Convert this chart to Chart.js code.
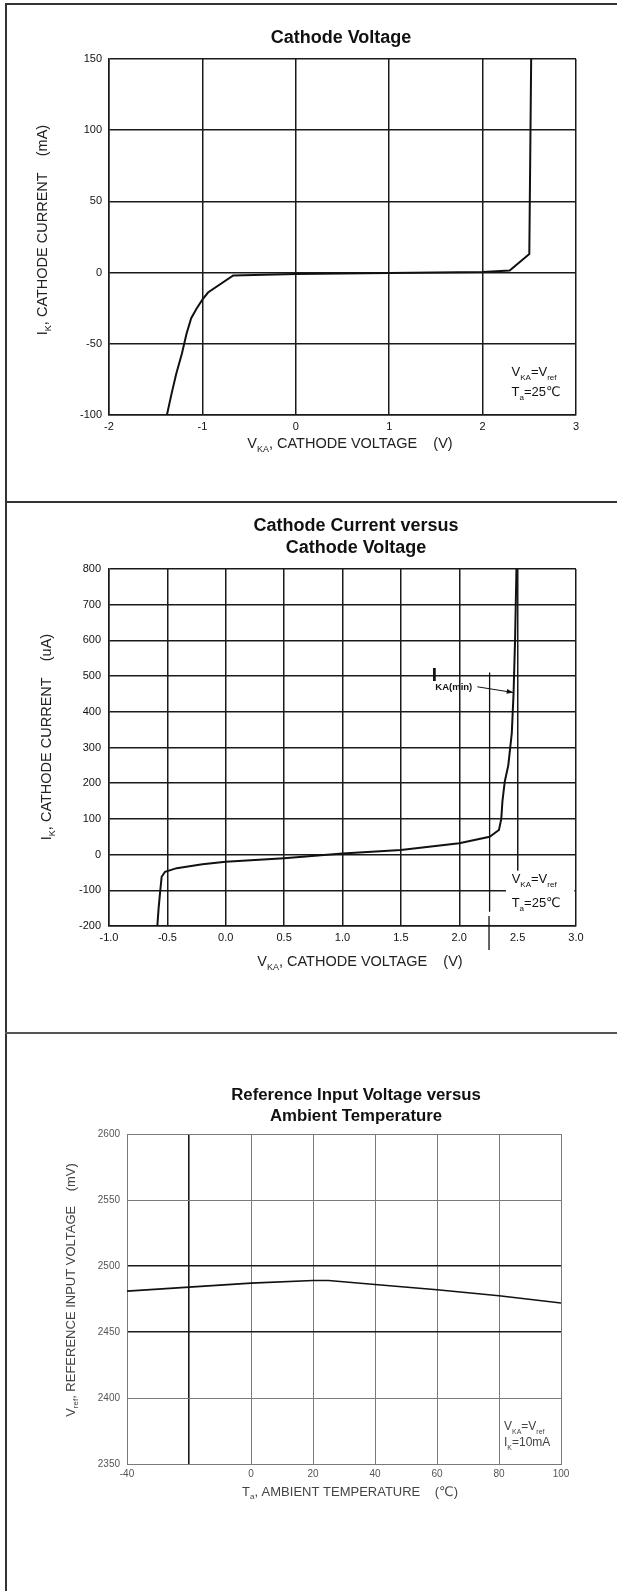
<!DOCTYPE html>
<html>
<head>
<meta charset="utf-8">
<script src="https://cdn.jsdelivr.net/npm/chart.js@4/dist/chart.umd.min.js"></script>
<style>
  body { margin: 0; background: #fff; }
  #page { position: relative; width: 617px; height: 1591px; overflow: hidden; }
  canvas { position: absolute; left: 0; }
  .rule { position: absolute; background: #333; }
</style>
</head>
<body>
<div id="page">
  <canvas id="c1" width="617" height="501" style="top:0"></canvas>
  <canvas id="c2" width="617" height="531" style="top:502px"></canvas>
  <canvas id="c3" width="617" height="558" style="top:1033px"></canvas>
  <div class="rule" style="left:5px;top:3px;width:2px;height:1588px"></div>
  <div class="rule" style="left:5px;top:3px;width:612px;height:2px"></div>
  <div class="rule" style="left:5px;top:501px;width:612px;height:2px"></div>
  <div class="rule" style="left:5px;top:1032px;width:612px;height:2px;background:#555"></div>
</div>
<script>
// Cathode voltage curve (mA)
const cvVolt = [-1.38, -1.33, -1.28, -1.22, -1.17, -1.12, -1.06, -1.00, -0.94, -0.67, 0, 1, 2, 2.29, 2.50, 2.52];
const cvCurrent = [-100, -85, -71, -57, -43, -32, -25, -19, -14, -2, -1, -0.3, 0.5, 1.5, 13, 150];
const cvXTicks = [-2, -1, 0, 1, 2, 3];
const cvXLabels = ['-2', '-1', '0', '1', '2', '3'];
const cvYTicks = [-100, -50, 0, 50, 100, 150];
const cvYLabels = ['-100', '-50', '0', '50', '100', '150'];

// Cathode current vs cathode voltage (uA)
const ccVolt = [-0.586, -0.575, -0.563, -0.549, -0.52, -0.42, -0.2, 0, 0.5, 1.0, 1.5, 2.0, 2.26, 2.34, 2.36, 2.37, 2.39, 2.42, 2.45, 2.465, 2.478, 2.49];
const ccCurrent = [-200, -150, -108, -62, -48, -38, -27, -20, -10, 3, 13, 32, 50, 69, 100, 150, 205, 250, 340, 450, 600, 800];
const ccXTicks = [-1, -0.5, 0, 0.5, 1, 1.5, 2, 2.5, 3];
const ccXLabels = ['-1.0', '-0.5', '0.0', '0.5', '1.0', '1.5', '2.0', '2.5', '3.0'];
const ccYTicks = [-200, -100, 0, 100, 200, 300, 400, 500, 600, 700, 800];
const ccYLabels = ['-200', '-100', '0', '100', '200', '300', '400', '500', '600', '700', '800'];

// Reference input voltage vs ambient temperature (mV)
const tempC = [-40, -20, 0, 20, 25, 40, 60, 80, 100];
const vrefMv = [2481, 2484, 2487, 2489, 2489, 2486, 2482, 2477.5, 2472];
const tXTicks = [-40, -20, 0, 20, 40, 60, 80, 100];
const tXLabels = ['-40', '', '0', '20', '40', '60', '80', '100'];
const tYTicks = [2350, 2400, 2450, 2500, 2550, 2600];
const tYLabels = ['2350', '2400', '2450', '2500', '2550', '2600'];

const FAM = "'Liberation Sans', Arial, 'DejaVu Sans', sans-serif";
Chart.defaults.font.family = FAM;

const toPoints = (xs, ys) => xs.map((x, i) => ({ x, y: ys[i] }));

// text with subscripts: parts = [[text, isSub], ...]
function rich(ctx, parts, x, y, o) {
  const size = o.size, sub = o.sub || Math.round(size * 0.6);
  const font = s => `${o.weight || 'normal'} ${s}px ${FAM}`;
  let w = 0;
  for (const p of parts) { ctx.font = font(p[1] ? sub : size); w += ctx.measureText(p[0]).width; }
  let cx = o.align === 'center' ? x - w / 2 : (o.align === 'right' ? x - w : x);
  ctx.fillStyle = o.color || '#111';
  ctx.textAlign = 'left';
  ctx.textBaseline = 'middle';
  for (const p of parts) {
    ctx.font = font(p[1] ? sub : size);
    ctx.fillText(p[0], cx, p[1] ? y + size * 0.4 : y);
    cx += ctx.measureText(p[0]).width;
  }
}

function richV(ctx, parts, x, y, o) {
  ctx.save();
  ctx.translate(x, y);
  ctx.rotate(-Math.PI / 2);
  rich(ctx, parts, 0, 0, Object.assign({ align: 'center' }, o));
  ctx.restore();
}

function axis(o) {
  return {
    type: 'linear',
    min: o.ticks[0],
    max: o.ticks[o.ticks.length - 1],
    afterBuildTicks: s => { s.ticks = o.ticks.map(v => ({ value: v })); },
    ticks: {
      padding: o.pad, color: o.color, font: { size: o.size },
      autoSkip: false, maxRotation: 0,
      callback: (v, i) => o.labels[i]
    },
    grid: { drawTicks: false, color: o.grid, lineWidth: o.lw },
    border: { color: o.border, width: o.bw },
    afterFit: s => { if (s.isHorizontal()) s.height = o.fit; else s.width = o.fit; }
  };
}

function makeChart(id, cfg) {
  const c = document.getElementById(id);
  const A = cfg.area;
  return new Chart(c, {
    type: 'scatter',
    data: {
      datasets: [{
        data: cfg.points, showLine: true, borderColor: '#111', borderWidth: cfg.lw,
        pointRadius: 0, tension: 0, fill: false
      }]
    },
    options: {
      responsive: false, animation: false, events: [],
      layout: { padding: { left: 0, top: A.top, right: 617 - A.right, bottom: c.height - A.bottom - 40 } },
      plugins: { legend: { display: false }, tooltip: { enabled: false } },
      scales: { x: axis(Object.assign({ fit: 40 }, cfg.x)), y: axis(Object.assign({ fit: A.left }, cfg.y)) }
    },
    plugins: [{
      id: 'deco',
      beforeDatasetsDraw: ch => { if (cfg.under) cfg.under(ch, ch.ctx, ch.scales.x, ch.scales.y); },
      afterDraw: ch => cfg.over(ch, ch.ctx, ch.scales.x, ch.scales.y)
    }]
  });
}

const darkAxis = { color: '#111', size: 11, grid: '#1a1a1a', lw: 1.5, border: '#1a1a1a', bw: 1.5 };

// panel 1
makeChart('c1', {
  area: { left: 109, right: 576, top: 59, bottom: 415 },
  points: toPoints(cvVolt, cvCurrent),
  lw: 2,
  x: Object.assign({ ticks: cvXTicks, labels: cvXLabels, pad: 5 }, darkAxis),
  y: Object.assign({ ticks: cvYTicks, labels: cvYLabels, pad: 7 }, darkAxis),
  over: (ch, ctx, x, y) => {
    rich(ctx, [['Cathode Voltage']], 341, 38, { size: 18, weight: 'bold', align: 'center' });
    richV(ctx, [['I'], ['K', 1], [', CATHODE CURRENT    (mA)']], 43, 230, { size: 14.5, color: '#222' });
    rich(ctx, [['V'], ['KA', 1], [', CATHODE VOLTAGE    (V)']], 350, 444, { size: 14.5, align: 'center', color: '#222' });
    rich(ctx, [['V'], ['KA', 1], ['=V'], ['ref', 1]], x.getPixelForValue(2.31), y.getPixelForValue(-70), { size: 13, sub: 8 });
    rich(ctx, [['T'], ['a', 1], ['=25℃']], x.getPixelForValue(2.31), y.getPixelForValue(-84), { size: 13, sub: 8 });
  }
});

// panel 2
makeChart('c2', {
  area: { left: 109, right: 576, top: 67, bottom: 424 },
  points: toPoints(ccVolt, ccCurrent),
  lw: 2,
  x: Object.assign({ ticks: ccXTicks, labels: ccXLabels, pad: 5 }, darkAxis),
  y: Object.assign({ ticks: ccYTicks, labels: ccYLabels, pad: 8 }, darkAxis),
  under: (ch, ctx, x, y) => {
    // blank box behind the test condition note
    const l = x.getPixelForValue(2.4), r = x.getPixelForValue(2.985);
    const t = y.getPixelForValue(-45), b = y.getPixelForValue(-200) - 1;
    ctx.fillStyle = '#fff';
    ctx.fillRect(l, t, r - l, b - t);
  },
  over: (ch, ctx, x, y) => {
    rich(ctx, [['Cathode Current versus']], 356, 24, { size: 18, weight: 'bold', align: 'center' });
    rich(ctx, [['Cathode Voltage']], 356, 46, { size: 18, weight: 'bold', align: 'center' });
    richV(ctx, [['I'], ['K', 1], [', CATHODE CURRENT    (uA)']], 47, 235, { size: 14.5, color: '#222' });
    rich(ctx, [['V'], ['KA', 1], [', CATHODE VOLTAGE    (V)']], 360, 460, { size: 14.5, align: 'center', color: '#222' });
    rich(ctx, [['V'], ['KA', 1], ['=V'], ['ref', 1]], x.getPixelForValue(2.449), y.getPixelForValue(-69), { size: 13, sub: 8 });
    rich(ctx, [['T'], ['a', 1], ['=25℃']], x.getPixelForValue(2.449), y.getPixelForValue(-136), { size: 13, sub: 8 });

    // IKA(min) marker lines
    ctx.strokeStyle = '#111';
    ctx.lineWidth = 1.3;
    ctx.beginPath();
    ctx.moveTo(x.getPixelForValue(2.26), y.getPixelForValue(510));
    ctx.lineTo(x.getPixelForValue(2.26), y.getPixelForValue(-160));
    ctx.moveTo(x.getPixelForValue(2.255), y.getPixelForValue(-172));
    ctx.lineTo(x.getPixelForValue(2.255), y.getPixelForValue(-267));
    ctx.stroke();

    // label and arrow
    rich(ctx, [['I']], x.getPixelForValue(1.764), y.getPixelForValue(500), { size: 19, weight: 'bold' });
    rich(ctx, [['KA(min)']], x.getPixelForValue(1.795), y.getPixelForValue(469), { size: 9.5, weight: 'bold' });
    const x0 = x.getPixelForValue(2.155), y0 = y.getPixelForValue(470);
    const x1 = x.getPixelForValue(2.463), y1 = y.getPixelForValue(454);
    ctx.lineWidth = 1;
    ctx.beginPath();
    ctx.moveTo(x0, y0);
    ctx.lineTo(x1, y1);
    ctx.stroke();
    const ang = Math.atan2(y1 - y0, x1 - x0);
    ctx.fillStyle = '#111';
    ctx.beginPath();
    ctx.moveTo(x1, y1);
    ctx.lineTo(x1 - 7 * Math.cos(ang - 0.35), y1 - 7 * Math.sin(ang - 0.35));
    ctx.lineTo(x1 - 7 * Math.cos(ang + 0.35), y1 - 7 * Math.sin(ang + 0.35));
    ctx.closePath();
    ctx.fill();
  }
});

// panel 3
const heavyX = v => v === -20;
const heavyY = v => v === 2450 || v === 2500;
makeChart('c3', {
  area: { left: 127, right: 561, top: 101, bottom: 431 },
  points: toPoints(tempC, vrefMv),
  lw: 1.6,
  x: {
    ticks: tXTicks, labels: tXLabels, pad: 4, color: '#555', size: 10,
    grid: c => (c.tick && heavyX(c.tick.value)) ? '#1a1a1a' : '#7a7a7a',
    lw: c => (c.tick && heavyX(c.tick.value)) ? 1.6 : 1,
    border: '#7a7a7a', bw: 1
  },
  y: {
    ticks: tYTicks, labels: tYLabels, pad: 7, color: '#555', size: 10,
    grid: c => (c.tick && heavyY(c.tick.value)) ? '#1a1a1a' : '#7a7a7a',
    lw: c => (c.tick && heavyY(c.tick.value)) ? 1.6 : 1,
    border: '#7a7a7a', bw: 1
  },
  over: (ch, ctx, x, y) => {
    rich(ctx, [['Reference Input Voltage versus']], 356, 62, { size: 16.8, weight: 'bold', align: 'center' });
    rich(ctx, [['Ambient Temperature']], 356, 83.5, { size: 16.8, weight: 'bold', align: 'center' });
    richV(ctx, [['V'], ['ref', 1], [', REFERENCE INPUT VOLTAGE    (mV)']], 71, 257, { size: 13, color: '#444' });
    rich(ctx, [['T'], ['a', 1], [', AMBIENT TEMPERATURE    (℃)']], 350, 459, { size: 13, align: 'center', color: '#444' });
    rich(ctx, [['V'], ['KA', 1], ['=V'], ['ref', 1]], x.getPixelForValue(81.6), y.getPixelForValue(2378), { size: 12, sub: 7, color: '#444' });
    rich(ctx, [['I'], ['K', 1], ['=10mA']], x.getPixelForValue(81.6), y.getPixelForValue(2366), { size: 12, sub: 7, color: '#444' });
  }
});
</script>
</body>
</html>
